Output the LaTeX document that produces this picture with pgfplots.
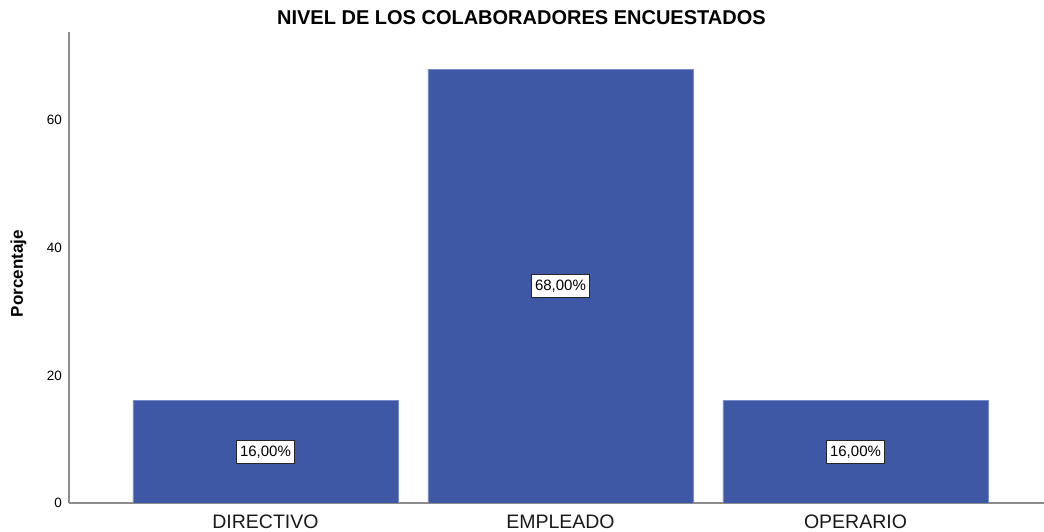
\documentclass[border=0pt]{standalone}
\usepackage{fontspec}
\setmainfont{Liberation Sans}
\usepackage{pgfplots}
\pgfplotsset{compat=1.18}
\definecolor{barblue}{RGB}{62,88,166}
\definecolor{baredge}{RGB}{120,140,200}

\begin{document}
\begin{tikzpicture}
\begin{axis}[
  name=ax,
  scale only axis,
  width=975pt, height=471pt,
  xmin=-0.666, xmax=2.639,
  ymin=0, ymax=73.8,
  axis lines*=left,
  axis line style={black!45, line width=1.3pt},
  major tick length=0pt,
  xtick={0,1,2},
  xticklabels={DIRECTIVO, EMPLEADO, OPERARIO},
  xticklabel style={anchor=base, yshift=-26pt, font=\fontsize{19.5}{22}\selectfont, text=black!90},
  ytick={0,20,40,60},
  /pgf/number format/assume math mode=true,
  yticklabel style={anchor=east, inner sep=0pt, xshift=-7pt, font=\fontsize{13.5}{16}\selectfont},
  ylabel={Porcentaje},
  ylabel style={at={(axis description cs:-0.0518,0.487)}, anchor=center, font=\bfseries\fontsize{17}{20}\selectfont},
  title={NIVEL DE LOS COLABORADORES ENCUESTADOS},
  every axis title shift=0pt,
  title style={at={(axis description cs:0.464,1)}, anchor=base, yshift=7pt, font=\bfseries\fontsize{20}{23}\selectfont},
]
  % bars
  \addplot[ybar, bar width=265pt, bar shift=0pt, fill=barblue, draw=baredge, line width=0.8pt]
    coordinates {(0,16) (1,68) (2,16)};
  % percentage labels at the middle of each bar
  \addplot[draw=none, mark=none,
    nodes near coords,
    point meta=explicit symbolic,
    every node near coord/.style={anchor=center, fill=white, draw=black!85, line width=1pt,
      inner xsep=3.5pt, inner ysep=0pt, minimum height=23pt, font=\fontsize{15}{18}\selectfont}]
    coordinates {(0,8)[16,00\%] (1,34)[68,00\%] (2,8)[16,00\%]};
\end{axis}
\pgfresetboundingbox
\path[use as bounding box] (ax.south west) ++(-69pt,-29pt) rectangle ++(1044pt,532pt);
\end{tikzpicture}
\end{document}
